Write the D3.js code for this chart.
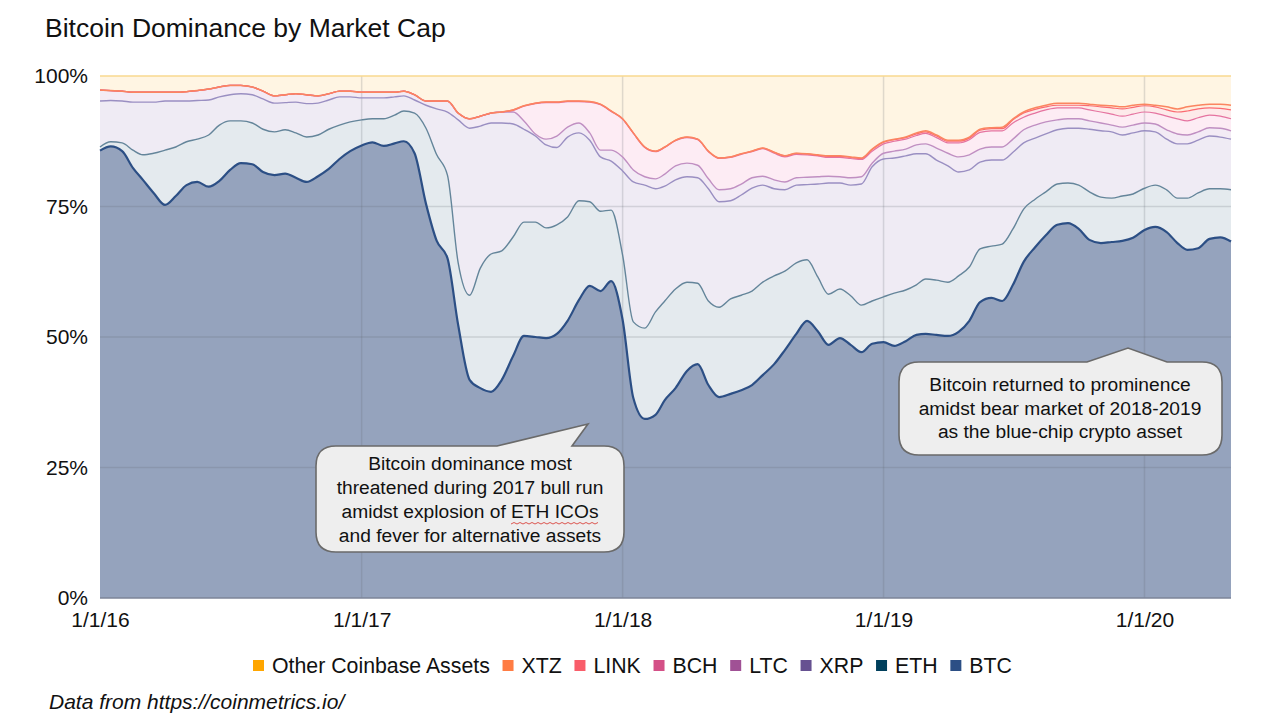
<!DOCTYPE html>
<html>
<head>
<meta charset="utf-8">
<script src="https://cdn.jsdelivr.net/npm/d3@7"></script>
<style>
body{margin:0;background:#fff;font-family:"Liberation Sans",Arial,sans-serif;}
text{fill:#111;}
</style>
</head>
<body>
<svg id="chart" width="1280" height="720"></svg>
<script>
// cumulative share of market cap (%), sampled on the 1st and 16th of each month from 1/1/16
const btcTop = [85.7,86.5,85.6,82.4,80.1,77.6,75.3,77.0,79.1,79.7,78.8,79.9,82.0,83.3,83.1,81.6,81.0,81.3,80.5,79.7,80.8,82.2,84.1,85.6,86.7,87.3,86.6,87.1,87.5,
  85.2,75.5,68.4,65.1,52.3,41.8,40.2,39.5,41.8,46.4,50.2,50.0,49.8,50.6,53.1,57.1,59.8,58.8,60.7,
  53.3,38.3,34.3,35.1,37.9,40.2,43.5,44.8,40.8,38.5,39.1,39.8,40.8,42.7,44.8,47.5,50.6,53.1,51.1,48.5,49.8,48.5,47.1,48.7,49.0,48.3,
  49.2,50.4,50.6,50.4,50.2,51.0,53.1,56.7,57.5,56.9,60.0,64.4,67.2,69.5,71.5,71.8,70.7,68.6,68.0,68.2,68.4,69.0,70.5,71.1,70.1,68.0,66.7,67.0,68.8,69.1,68.3];
const ethTop = [86.4,87.4,87.2,85.8,84.9,85.2,85.8,86.4,87.4,87.9,88.7,90.6,91.4,91.4,91.0,89.8,89.3,89.7,89.1,88.3,88.7,89.8,90.6,91.2,91.6,91.8,91.8,92.5,93.3,
  92.9,90.0,84.9,81.0,64.2,58.0,63.2,65.9,66.5,69.2,72.0,72.0,70.9,71.5,73.0,76.1,75.9,74.1,74.3,
  65.7,52.9,51.7,54.8,56.9,59.2,60.5,60.3,56.9,55.7,57.3,58.0,58.8,60.5,61.7,62.6,64.2,64.8,61.5,58.2,59.2,57.9,56.1,56.9,57.7,58.4,
  59.0,60.0,61.1,60.9,60.5,61.7,63.4,66.9,67.4,67.8,70.7,74.5,76.4,77.8,79.3,79.5,79.1,77.8,76.8,76.6,77.0,77.4,78.5,79.1,78.2,76.6,76.6,77.6,78.4,78.4,78.2];
const xrpTop = [95.2,95.3,95.2,95.0,95.0,95.0,95.2,95.2,95.2,95.3,95.4,96.0,96.4,96.6,96.4,95.6,94.8,94.9,95.0,94.7,94.8,95.4,96.0,96.0,95.8,95.8,95.8,96.0,96.2,
  95.4,94.4,93.7,93.1,91.6,90.0,90.4,91.0,91.0,90.8,89.8,88.5,86.8,86.3,88.3,89.1,87.7,84.5,83.7,
  81.8,79.7,79.1,78.4,78.9,80.1,80.7,80.5,78.4,75.9,76.1,77.2,78.5,79.1,78.4,78.2,79.1,79.2,79.3,79.5,79.5,79.1,79.3,82.6,84.1,84.3,
  84.7,85.1,85.1,83.9,82.8,81.6,82.0,83.5,83.9,83.9,85.4,87.2,88.1,88.9,89.7,90.0,90.0,89.8,89.5,89.3,88.7,89.1,89.5,89.3,87.9,87.0,87.0,87.7,88.5,88.3,87.9];
// until BCH forks off in Aug 2017 the upper layers all share one edge
const earlyTop = [97.3,97.2,97.1,96.9,96.9,96.9,96.9,96.9,97.0,97.2,97.5,97.9,98.2,98.2,97.9,97.1,96.2,96.4,96.6,96.4,96.2,96.6,97.1,97.1,96.9,96.9,96.9,96.9,97.1,
  96.4,95.2,95.2,95.2,92.9,91.8,92.3,92.9,93.1];
const ltcTop = earlyTop.concat([93.1,91.4,88.9,87.9,88.5,90.2,91.0,89.1,85.8,85.8,
  84.5,82.0,80.7,80.3,81.2,82.8,83.3,82.9,80.3,78.2,78.4,79.3,80.5,80.8,80.1,79.7,80.5,80.6,80.7,80.8,80.7,80.5,80.7,83.3,85.2,85.6,
  86.0,86.8,87.0,86.2,85.2,84.5,84.9,86.0,86.4,86.4,87.9,89.7,90.6,91.2,91.6,91.8,91.8,91.4,91.0,90.6,90.2,90.6,91.0,90.8,89.7,88.9,88.7,89.3,90.1,90.0,89.5]);
const bchTop = earlyTop.concat([93.4,94.2,94.7,94.9,94.9,95.1,95.1,95.0,94.5,93.2,
  91.7,89.0,86.3,85.5,86.3,87.6,88.2,87.8,85.5,84.2,84.4,85.0,85.5,86.1,85.2,84.5,85.0,84.9,84.7,84.4,84.4,84.2,84.0,85.6,87.0,87.5,
  87.9,88.6,89.0,88.2,87.2,87.2,87.8,89.2,89.5,89.5,91.0,92.1,92.9,93.5,93.9,93.9,93.9,93.5,93.1,92.7,92.3,92.7,93.1,92.9,92.3,91.8,91.4,92.0,92.5,92.3,91.8]);
const linkTop = earlyTop.concat([93.5,94.3,94.8,95.0,95.0,95.2,95.2,95.1,94.6,93.3,
  91.8,89.1,86.4,85.6,86.4,87.7,88.3,87.9,85.6,84.3,84.5,85.1,85.6,86.2,85.4,84.7,85.2,85.1,84.8,84.6,84.6,84.4,84.2,85.9,87.3,87.8,
  88.2,88.9,89.3,88.5,87.5,87.5,88.1,89.6,89.9,89.9,91.6,92.9,93.6,94.1,94.4,94.4,94.4,94.3,94.1,93.9,93.7,94.0,94.3,94.1,93.5,93.1,93.3,93.7,93.9,93.8,93.5]);
const xtzTop = earlyTop.concat([93.5,94.3,94.8,95.0,95.0,95.2,95.2,95.1,94.6,93.3,
  91.8,89.1,86.4,85.6,86.4,87.7,88.3,87.9,85.6,84.3,84.5,85.1,85.6,86.2,85.4,84.7,85.2,85.1,84.9,84.7,84.7,84.5,84.3,86.0,87.4,87.9,
  88.3,89.1,89.5,88.7,87.7,87.7,88.3,89.8,90.1,90.2,91.8,93.1,93.9,94.4,94.8,94.8,94.8,94.6,94.4,94.3,94.1,94.4,94.6,94.4,94.1,93.7,94.1,94.4,94.6,94.6,94.4]);
const otherTop = btcTop.map(() => 100);

const dates = btcTop.map((d, i) => new Date(2016, Math.floor(i / 2), i % 2 ? 16 : 1));
const yearTicks = [new Date(2016,0,1), new Date(2017,0,1), new Date(2018,0,1), new Date(2019,0,1), new Date(2020,0,1)];
const percentTicks = [0,25,50,75,100];

const levels = [btcTop, ethTop, xrpTop, ltcTop, bchTop, linkTop, xtzTop, otherTop];
const names = ["BTC","ETH","XRP","LTC","BCH","LINK","XTZ","Other Coinbase Assets"];
const colors = ["#2c4f85","#003f5c","#665191","#a05195","#d45087","#f95d6a","#ff7c43","#ffa600"];
const fills = ["#95a3bd","#e4eaee","#efebf4","#f3ebf5","#fdecf4","#fdeaea","#ffeede","#fff5e3"];
const lineColors = ["#2c4f85","#64859a","#9a8fc2","#c08fc2","#e573a0","#fb6a72","#fb8560","#f9d88f"];
const lineWidths = [2.2,1.4,1.4,1.4,1.2,1.2,1.5,1.5];

const x_scale = d3.scaleTime().domain([new Date(2016,0,1), new Date(2020,4,1)]).range([100,1231]);
const y_scale = d3.scaleLinear().domain([0,100]).range([598,76]);

const svg = d3.select("#chart");

const area = d3.area().curve(d3.curveMonotoneX).x((d,i)=>x_scale(dates[i]));
const line = d3.line().curve(d3.curveMonotoneX).x((d,i)=>x_scale(dates[i])).y(d=>y_scale(d));

svg.append("g").selectAll("path").data(levels).join("path")
  .attr("fill",(d,i)=>fills[i])
  .attr("d",(d,i)=>area.y0((v,j)=>y_scale(i ? levels[i-1][j] : 0)).y1(v=>y_scale(v))(d));

// grid sits over the fills, the reference shows it through every layer
svg.append("g").selectAll("line").data(percentTicks.slice(1,4)).join("line")
  .attr("x1",100).attr("x2",1231).attr("y1",d=>y_scale(d)).attr("y2",d=>y_scale(d))
  .attr("stroke","#5f6470").attr("stroke-opacity",0.2).attr("stroke-width",1.5);
svg.append("g").selectAll("line").data(yearTicks.slice(1)).join("line")
  .attr("x1",d=>x_scale(d)).attr("x2",d=>x_scale(d)).attr("y1",76).attr("y2",598)
  .attr("stroke","#5f6470").attr("stroke-opacity",0.2).attr("stroke-width",1.5);

svg.append("g").selectAll("path").data(levels).join("path")
  .attr("fill","none")
  .attr("stroke",(d,i)=>lineColors[i])
  .attr("stroke-width",(d,i)=>lineWidths[i])
  .attr("d",line);

svg.append("line").attr("x1",100).attr("x2",1231).attr("y1",598).attr("y2",598)
  .attr("stroke","#7c8599").attr("stroke-width",1.5);

const y_axis = svg.append("g").attr("transform","translate(100,0)")
  .call(d3.axisLeft(y_scale).tickValues(percentTicks).tickFormat(d=>d+"%").tickSize(0).tickPadding(12));
const x_axis = svg.append("g").attr("transform","translate(0,598)")
  .call(d3.axisBottom(x_scale).tickValues(yearTicks).tickFormat(d3.timeFormat("%-m/%-d/%y")).tickSize(0).tickPadding(14));
[y_axis,x_axis].forEach(a=>{
  a.select(".domain").remove();
  a.selectAll("text").attr("font-family","Liberation Sans").attr("font-size",21).attr("fill","#111");
});

svg.append("text").attr("x",45).attr("y",37).attr("font-size",26.5).text("Bitcoin Dominance by Market Cap");
svg.append("text").attr("x",49).attr("y",709).attr("font-size",21).attr("font-style","italic").text("Data from https://coinmetrics.io/");

// legend runs top layer first
let legend_x = 253;
const legend = svg.append("g");
d3.range(names.length-1,-1,-1).forEach(i=>{
  legend.append("rect").attr("x",legend_x).attr("y",660).attr("width",11).attr("height",11).attr("fill",colors[i]);
  const t = legend.append("text").attr("x",legend_x+19).attr("y",673).attr("font-size",21.3).text(names[i]);
  legend_x += 19 + t.node().getComputedTextLength() + 12.7;
});

function callout(left,right,top,bottom,tail){
  const r = 20, p = d3.path();
  p.moveTo(left+r,top);
  tail.forEach(t=>p.lineTo(t[0],t[1]));
  p.lineTo(right-r,top);
  p.quadraticCurveTo(right,top,right,top+r);
  p.lineTo(right,bottom-r);
  p.quadraticCurveTo(right,bottom,right-r,bottom);
  p.lineTo(left+r,bottom);
  p.quadraticCurveTo(left,bottom,left,bottom-r);
  p.lineTo(left,top+r);
  p.quadraticCurveTo(left,top,left+r,top);
  p.closePath();
  svg.append("path").attr("d",p.toString()).attr("fill","#eeeeee").attr("stroke","#6a6a6a").attr("stroke-width",1.6);
}
function calloutText(cx,lines,firstY,step){
  svg.append("g").selectAll("text").data(lines).join("text")
    .attr("x",cx).attr("y",(d,i)=>firstY+i*step).attr("text-anchor","middle").attr("font-size",19.2).text(d=>d);
}

callout(316,624,446,552,[[497,446],[588,424],[572,446]]);
calloutText(470,["Bitcoin dominance most","threatened during 2017 bull run","amidst explosion of ETH ICOs","and fever for alternative assets"],470,24);
callout(899,1222,362,455,[[1087,362],[1128,348],[1167,362]]);
calloutText(1060,["Bitcoin returned to prominence","amidst bear market of 2018-2019","as the blue-chip crypto asset"],391,23.5);

// spell-check squiggle under ETH ICOs
const squiggle = d3.path();
squiggle.moveTo(511,524);
d3.range(1,30).forEach(k=>squiggle.lineTo(511+k*3,k%2?522.5:524));
svg.append("path").attr("d",squiggle.toString()).attr("fill","none").attr("stroke","#d9453d").attr("stroke-width",0.9);
</script>
</body>
</html>
